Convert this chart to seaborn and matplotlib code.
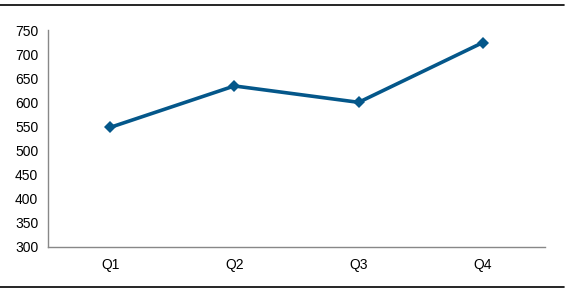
import matplotlib
matplotlib.use("Agg")
import matplotlib.pyplot as plt
from matplotlib.lines import Line2D
import seaborn as sns
import pandas as pd

categories = ["Q1", "Q2", "Q3", "Q4"]
values = [548, 634, 600, 724]
y_ticks = [300, 350, 400, 450, 500, 550, 600, 650, 700, 750]

sns.set_style("white")
plt.rcParams["font.family"] = ["Liberation Sans", "DejaVu Sans"]

df = pd.DataFrame({"q": categories, "v": values})
df["pos"] = range(len(categories))

fig = plt.figure(figsize=(5.67, 2.90), dpi=100)
ax = fig.add_axes([48/567, 1 - 247/290, (545 - 48)/567, (247 - 30)/290])

sns.lineplot(data=df, x="pos", y="v", ax=ax, color="#04578a", linewidth=2.6,
             marker="D", markersize=6.5, markeredgewidth=0, zorder=3)

ax.set_xlim(-0.5, len(categories) - 0.5)
ax.set_ylim(300, 750)
ax.set_yticks(y_ticks)
ax.set_yticklabels([str(t) for t in y_ticks], fontsize=10, color="#000000")

bounds = [i - 0.5 for i in range(len(categories) + 1)]
ax.set_xticks(bounds)
ax.set_xticklabels([""] * len(bounds))
ax.set_xticks(range(len(categories)), minor=True)
ax.set_xticklabels(categories, minor=True, fontsize=10, color="#000000")
ax.tick_params(axis="x", which="major", length=4, width=1, color="#888888", direction="out")
ax.tick_params(axis="x", which="minor", length=0, pad=8)
ax.tick_params(axis="y", length=4, width=1, color="#888888", direction="out", pad=3)
ax.set_xlabel("")
ax.set_ylabel("")

for s in ["top", "right"]:
    ax.spines[s].set_visible(False)
for s in ["left", "bottom"]:
    ax.spines[s].set_color("#888888")
    ax.spines[s].set_linewidth(1)

fig.add_artist(Line2D([0, 564/567], [1 - 5/290, 1 - 5/290], color="black", linewidth=1.2, transform=fig.transFigure))
fig.add_artist(Line2D([0, 564/567], [1 - 287/290, 1 - 287/290], color="black", linewidth=1.2, transform=fig.transFigure))

fig.savefig("out.png", dpi=100)
